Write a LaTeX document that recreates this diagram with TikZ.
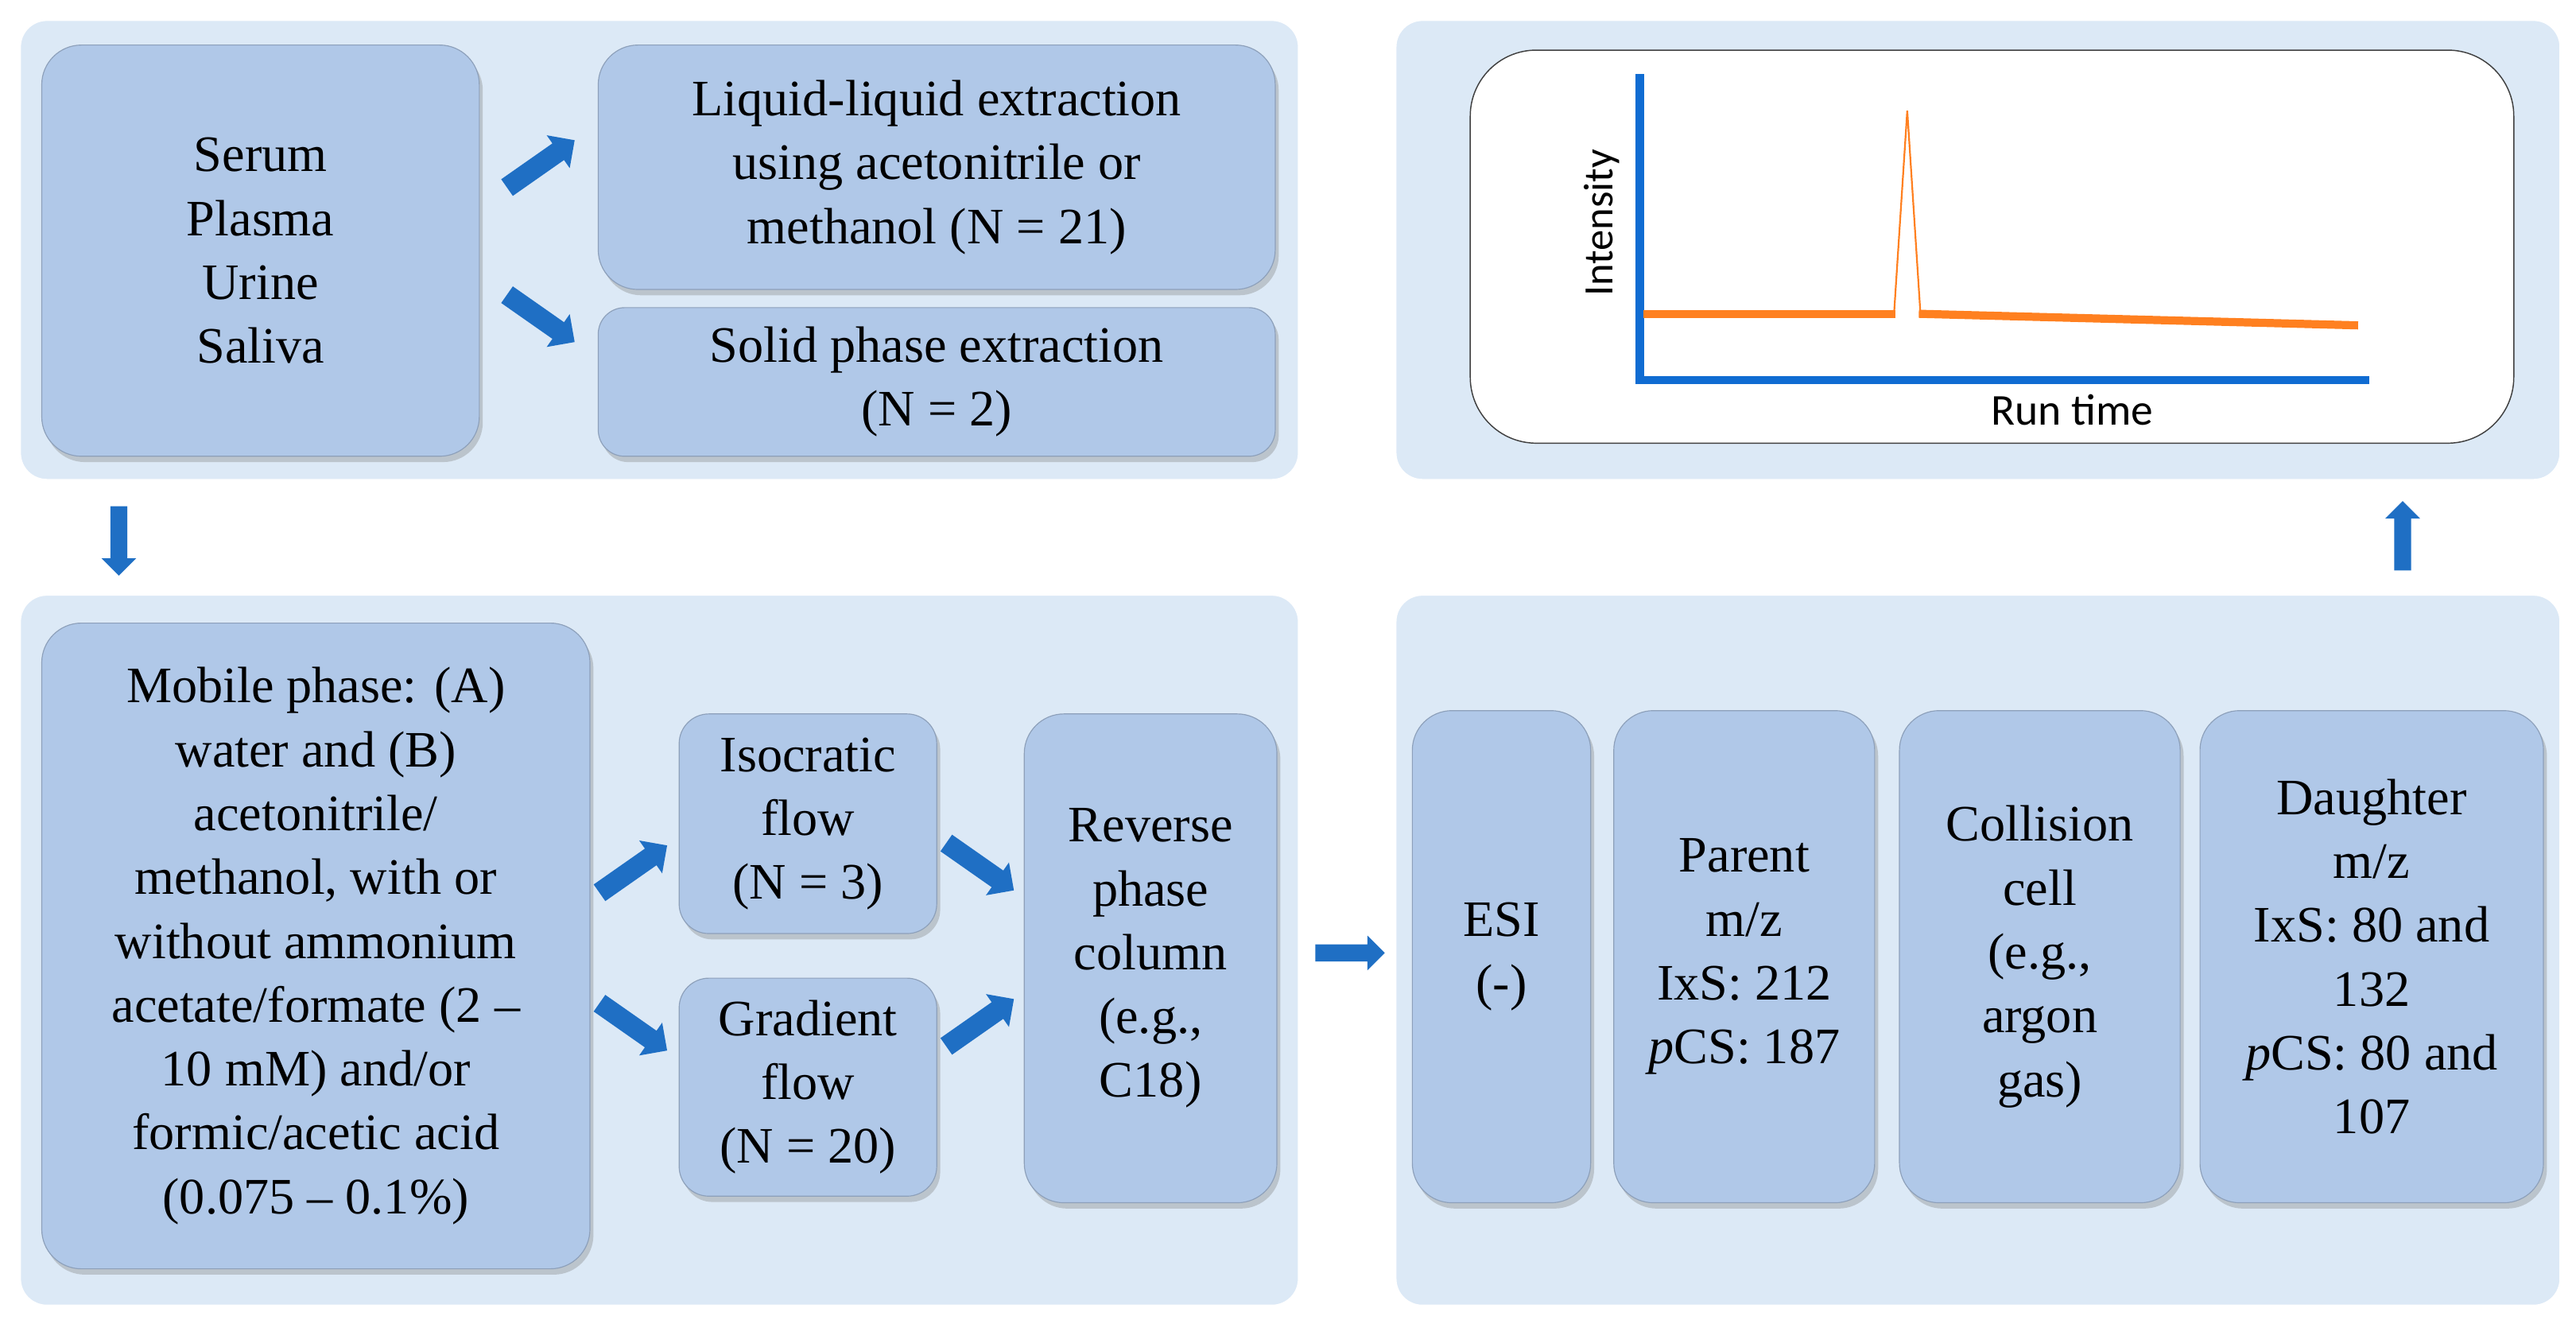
\documentclass[tikz,border=0pt]{standalone}
\usepackage{fontspec}
\setmainfont{Liberation Serif}
\newfontfamily\sansf{Carlito}
\usetikzlibrary{shapes.arrows,shadows}
\definecolor{panelc}{RGB}{220,233,246}
\definecolor{boxc}{RGB}{176,200,232}
\definecolor{arrc}{RGB}{31,111,196}
\definecolor{orangec}{RGB}{255,128,32}
\definecolor{axisc}{RGB}{16,108,210}
\begin{document}
\begin{tikzpicture}[x=0.05cm,y=-0.05cm,
  panel/.style={fill=panelc,draw=white,line width=1pt,rounded corners=0.8cm,anchor=north west,inner sep=0},
  box/.style={fill=boxc,draw=boxc!80!black,line width=0.8pt,rounded corners=1.2cm,anchor=north west,
     align=center,font=\fontsize{44}{55}\selectfont,inner sep=4pt,
     drop shadow={opacity=0.35,shadow xshift=3pt,shadow yshift=-5pt}},
  barr/.style={single arrow,fill=arrc,draw=none,minimum height=2.5cm,
     single arrow head extend=0.3cm,inner sep=0.3cm,single arrow tip angle=90},
  varr/.style={barr,minimum height=2.1cm,inner sep=0.25cm,single arrow head extend=0.27cm}]
\useasboundingbox (0,0) rectangle (1560,799);
\fill[white] (0,0) rectangle (1560,799);
% panels
\node[panel,minimum width=38.7cm,minimum height=13.9cm] (ptl) at (12,12) {};
\node[panel,minimum width=35.25cm,minimum height=13.9cm] (ptr) at (845,12) {};
\node[panel,minimum width=38.7cm,minimum height=21.5cm] (pbl) at (12,360) {};
\node[panel,minimum width=35.25cm,minimum height=21.5cm] (pbr) at (845,360) {};
% top-left boxes
\node[box,minimum width=13.25cm,minimum height=12.45cm] (serum) at (25,27) {Serum\\Plasma\\Urine\\Saliva};
\node[box,minimum width=20.5cm,minimum height=7.4cm] (lle) at (362,27) {Liquid-liquid extraction\\using acetonitrile or\\methanol (N = 21)};
\node[box,minimum width=20.5cm,minimum height=4.5cm,rounded corners=0.8cm] (spe) at (362,186) {Solid phase extraction\\(N = 2)};
\node[barr,rotate=35] (a1) at (325,101) {};
\node[barr,rotate=-35] (a2) at (325,191) {};
\node[varr,rotate=-90] (a3) at (72,325) {};
\node[varr,rotate=90] (a4) at (1455,327) {};
% bottom-left
\node[box,minimum width=16.6cm,minimum height=19.55cm] (mob) at (25,377) {Mobile phase: (A)\\water and (B)\\acetonitrile/\\methanol, with or\\without ammonium\\acetate/formate (2 --\\10 mM) and/or\\formic/acetic acid\\(0.075 -- 0.1\%)};
\node[box,minimum width=7.8cm,minimum height=6.65cm,rounded corners=0.9cm] (iso) at (411,432) {Isocratic\\flow\\(N = 3)};
\node[box,minimum width=7.8cm,minimum height=6.6cm,rounded corners=0.9cm] (grad) at (411,592) {Gradient\\flow\\(N = 20)};
\node[box,minimum width=7.65cm,minimum height=14.8cm] (rev) at (620,432) {Reverse\\phase\\column\\(e.g.,\\C18)};
\node[barr,rotate=35] (a5) at (381,528) {};
\node[barr,rotate=-35] (a6) at (381,620) {};
\node[barr,rotate=-35] (a7) at (591,523) {};
\node[barr,rotate=35] (a8) at (591,621) {};
\node[varr,rotate=0] (a9) at (815,577) {};
% bottom-right
\node[box,minimum width=5.4cm,minimum height=14.9cm] (esi) at (855,430) {ESI\\(-)};
\node[box,minimum width=7.9cm,minimum height=14.9cm] (par) at (977,430) {Parent\\m/z\\IxS: 212\\\textit{p}CS: 187};
\node[box,minimum width=8.5cm,minimum height=14.9cm] (col) at (1150,430) {Collision\\cell\\(e.g.,\\argon\\gas)};
\node[box,minimum width=10.4cm,minimum height=14.9cm] (dau) at (1332,430) {Daughter\\m/z\\IxS: 80 and\\132\\\textit{p}CS: 80 and\\107};
% chromatogram
\node[fill=white,draw=black!75,line width=1pt,rounded corners=2cm,anchor=north west,inner sep=0,
  minimum width=31.6cm,minimum height=11.9cm] (chrom) at (890,30) {};
\coordinate (ytop) at (993,45);
\coordinate (orig) at (993,230);
\coordinate (xend) at (1435,230);
\draw[axisc,line width=7pt] (ytop) -- (orig) -- (xend);
\coordinate (o1) at (995,190);
\coordinate (o2) at (1148,190);
\coordinate (o3) at (1162,190);
\coordinate (o4) at (1428,197);
\draw[orangec,line width=7pt] (o1) -- (o2);
\draw[orangec,line width=7pt] (o3) -- (o4);
\draw[orangec,line width=1.5pt] (1147,190) -- (1155,67) -- (1163,190);
\node[font=\sansf\fontsize{36}{40}\selectfont,rotate=90] (ylab) at (970,135) {Intensity};
\node[font=\sansf\fontsize{38}{42}\selectfont] (xlab) at (1255,248) {Run time};
\end{tikzpicture}
\end{document}
